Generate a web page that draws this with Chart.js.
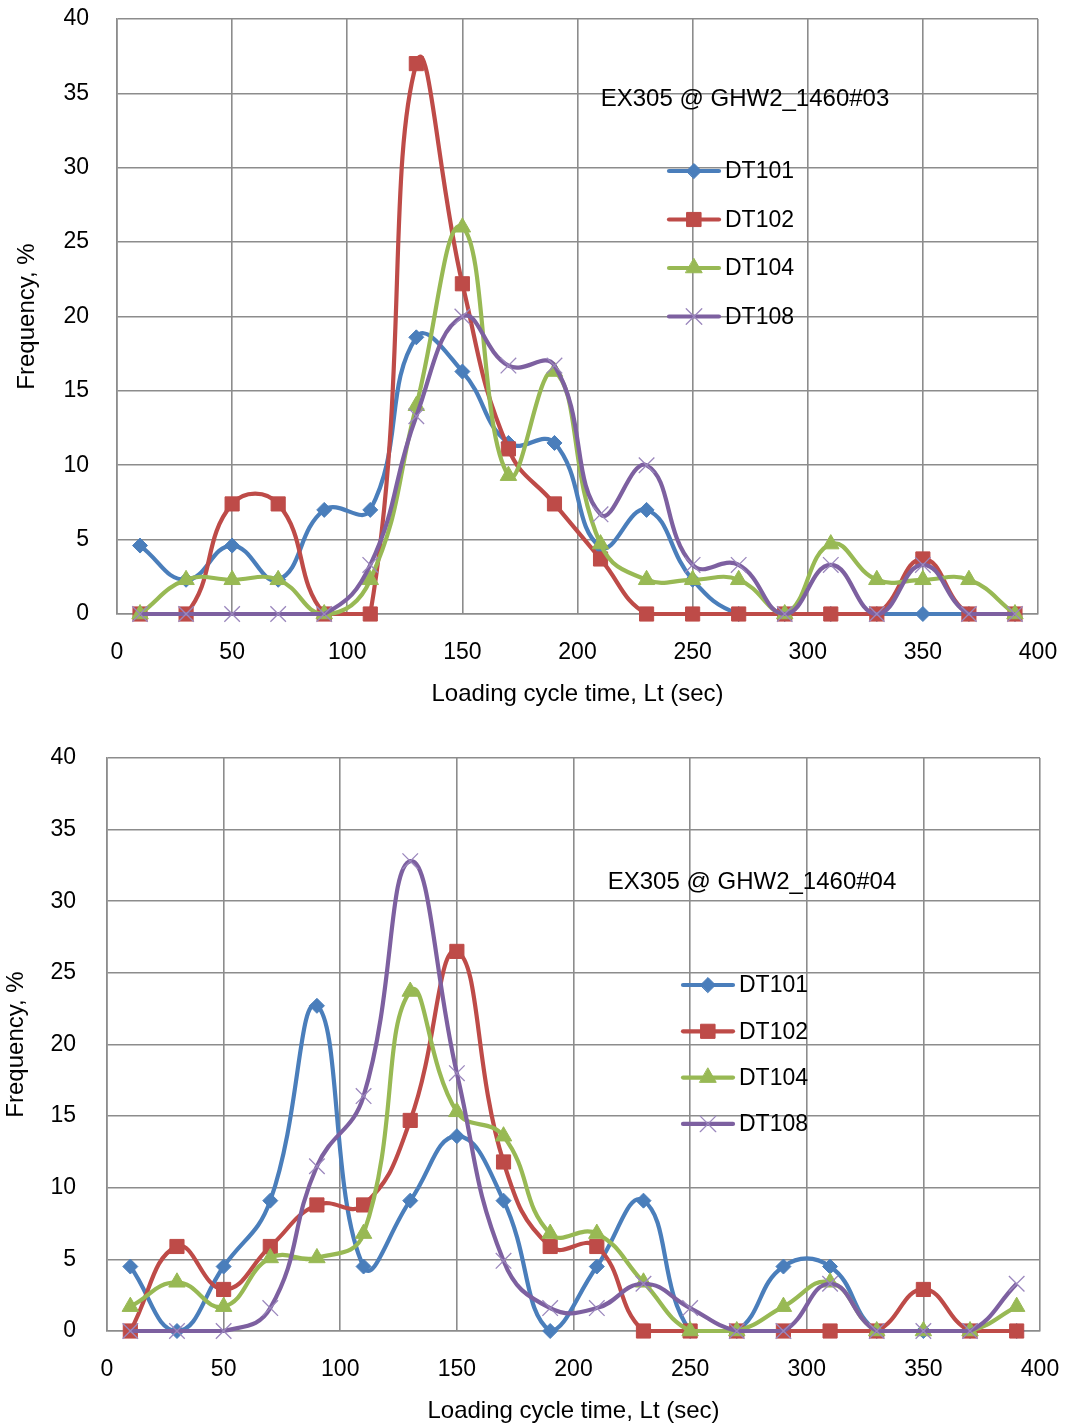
<!DOCTYPE html>
<html>
<head>
<meta charset="utf-8">
<script src="https://cdn.jsdelivr.net/npm/chart.js@4.4.1/dist/chart.umd.min.js"></script>
<style>
  body { margin: 0; background: #fff; }
  .box { position: relative; width: 1074px; }
  #top { height: 720px; }
  #bottom { height: 704px; }
</style>
</head>
<body>
<div class="box" id="top"><canvas id="chart03"></canvas></div>
<div class="box" id="bottom"><canvas id="chart04"></canvas></div>
<script>
// loading cycle time bins (sec)
const cycleTimes = [10, 30, 50, 70, 90, 110, 130, 150, 170, 190, 210, 230, 250, 270, 290, 310, 330, 350, 370, 390];
const seriesNames = ["DT101", "DT102", "DT104", "DT108"];

// EX305 @ GHW2_1460#03
const dt101_03 = [4.6, 2.3, 4.6, 2.3, 7.0, 7.0, 18.6, 16.3, 11.5, 11.5, 4.5, 7.0, 2.3, 0, 0, 0, 0, 0, 0, 0];
const dt102_03 = [0, 0, 7.4, 7.4, 0, 0, 37.0, 22.2, 11.1, 7.4, 3.7, 0, 0, 0, 0, 0, 0, 3.7, 0, 0];
const dt104_03 = [0, 2.3, 2.3, 2.3, 0, 2.3, 14.0, 26.0, 9.3, 16.3, 4.7, 2.3, 2.3, 2.3, 0, 4.7, 2.3, 2.3, 2.3, 0];
const dt108_03 = [0, 0, 0, 0, 0, 3.3, 13.3, 20.0, 16.7, 16.7, 6.7, 10.0, 3.3, 3.3, 0, 3.3, 0, 3.3, 0, 0];

// EX305 @ GHW2_1460#04
const dt101_04 = [4.5, 0, 4.5, 9.1, 22.7, 4.5, 9.1, 13.6, 9.1, 0, 4.5, 9.1, 0, 0, 4.5, 4.5, 0, 0, 0, 0];
const dt102_04 = [0, 5.9, 2.9, 5.9, 8.8, 8.8, 14.7, 26.5, 11.8, 5.9, 5.9, 0, 0, 0, 0, 0, 0, 2.9, 0, 0];
const dt104_04 = [1.7, 3.4, 1.7, 5.1, 5.1, 6.8, 23.7, 15.3, 13.6, 6.8, 6.8, 3.4, 0, 0, 1.7, 3.4, 0, 0, 0, 1.7];
const dt108_04 = [0, 0, 0, 1.6, 11.5, 16.4, 32.8, 18.0, 4.9, 1.6, 1.6, 3.3, 1.6, 0, 0, 3.3, 0, 0, 0, 3.3];

const FONT = '"Liberation Sans", Arial, sans-serif';

const styles = [
  { color: "#4a7ebb", pointStyle: "rectRot", radius: 7.5, pointBorder: "#4a7ebb", pbw: 1 },
  { color: "#be4b48", pointStyle: "rect", radius: 10, pointBorder: "#be4b48", pbw: 1 },
  { color: "#98b954", pointStyle: "triangle", radius: 9.5, pointBorder: "#98b954", pbw: 1 },
  { color: "#7d60a0", pointStyle: "crossRot", radius: 11, pointBorder: "#9b87bd", pbw: 1.3 },
];

function makeDatasets(seriesList) {
  return seriesList.map(function (values, i) {
    const s = styles[i];
    return {
      label: seriesNames[i],
      data: values.map(function (v, j) { return { x: cycleTimes[j], y: v }; }),
      borderColor: s.color,
      backgroundColor: s.color,
      borderWidth: 4.2,
      tension: 0.45,
      pointStyle: s.pointStyle,
      pointRadius: s.radius,
      pointBackgroundColor: s.color,
      pointBorderColor: s.pointBorder,
      pointBorderWidth: s.pbw,
      showLine: true,
      clip: false,
      order: 4 - i,
    };
  });
}

// title and legend drawn inside the plot area, like the original
const insideLegend = {
  id: "insideLegend",
  afterDraw(chart, args, opts) {
    const ctx = chart.ctx;
    ctx.save();
    ctx.fillStyle = "#000";
    ctx.font = "24px " + FONT;
    ctx.textAlign = "center";
    ctx.textBaseline = "middle";
    ctx.fillText(opts.title, opts.titleX, opts.titleY);

    ctx.font = "23px " + FONT;
    ctx.textAlign = "left";
    chart.data.datasets.forEach(function (ds, i) {
      const s = styles[i];
      const y = opts.legendY + i * opts.legendStep;
      const x = opts.legendX;
      ctx.strokeStyle = s.color;
      ctx.lineWidth = 4.2;
      ctx.lineCap = "round";
      ctx.beginPath();
      ctx.moveTo(x - 25, y);
      ctx.lineTo(x + 25, y);
      ctx.stroke();
      ctx.fillStyle = s.color;
      ctx.strokeStyle = s.pointBorder;
      ctx.lineWidth = s.pbw;
      Chart.helpers.drawPoint(ctx, { pointStyle: s.pointStyle, radius: s.radius, rotation: 0, borderWidth: s.pbw }, x, y);
      ctx.fillStyle = "#000";
      ctx.fillText(ds.label, x + 31, y + 1);
    });
    ctx.restore();
  },
};

function makeChart(canvasId, seriesList, cfg) {
  const ctx = document.getElementById(canvasId).getContext("2d");
  return new Chart(ctx, {
    type: "scatter",
    data: { datasets: makeDatasets(seriesList) },
    plugins: [insideLegend],
    options: {
      responsive: true,
      maintainAspectRatio: false,
      animation: false,
      layout: { padding: { top: cfg.padTop, right: cfg.padRight, left: 0, bottom: 0 } },
      scales: {
        x: {
          type: "linear",
          min: 0,
          max: 400,
          ticks: { stepSize: 50, color: "#000", font: { family: FONT, size: 23 }, padding: 25, maxRotation: 0 },
          grid: { color: "#8c8c8c", lineWidth: 1.6, drawTicks: false },
          border: { color: "#8c8c8c", width: 1.6 },
          title: { display: true, text: "Loading cycle time, Lt (sec)", color: "#000", font: { family: FONT, size: 24 }, padding: { top: 0, bottom: cfg.xTitlePad } },
          afterFit: function (scale) {
            scale.height = cfg.xHeight;
            scale.paddingLeft = 0;
            scale.paddingRight = 0;
          },
        },
        y: {
          min: 0,
          max: 40,
          ticks: { stepSize: 5, color: "#000", font: { family: FONT, size: 23 }, padding: cfg.yTickPad },
          grid: { color: "#8c8c8c", lineWidth: 1.6, drawTicks: false },
          border: { color: "#8c8c8c", width: 1.6 },
          title: { display: true, text: "Frequency, %", color: "#000", font: { family: FONT, size: 24 }, padding: { top: cfg.yTitlePad, bottom: 0 } },
          afterFit: function (scale) {
            scale.width = cfg.yWidth;
            scale.paddingTop = 0;
            scale.paddingBottom = 0;
          },
        },
      },
      plugins: {
        legend: { display: false },
        tooltip: { enabled: false },
        insideLegend: {
          title: cfg.title,
          titleX: cfg.titleX,
          titleY: cfg.titleY,
          legendX: cfg.legendX,
          legendY: cfg.legendY,
          legendStep: cfg.legendStep,
        },
      },
    },
  });
}

makeChart("chart03", [dt101_03, dt102_03, dt104_03, dt108_03], {
  padTop: 19, padRight: 36, xHeight: 106, yWidth: 117,
  xTitlePad: 11, yTitlePad: 13, yTickPad: 28,
  title: "EX305 @ GHW2_1460#03", titleX: 745, titleY: 99,
  legendX: 694, legendY: 171, legendStep: 48.5,
});

makeChart("chart04", [dt101_04, dt102_04, dt104_04, dt108_04], {
  padTop: 38, padRight: 34, xHeight: 93, yWidth: 107,
  xTitlePad: -2, yTitlePad: 2, yTickPad: 31,
  title: "EX305 @ GHW2_1460#04", titleX: 752, titleY: 162,
  legendX: 708, legendY: 265, legendStep: 46.3,
});
</script>
</body>
</html>
